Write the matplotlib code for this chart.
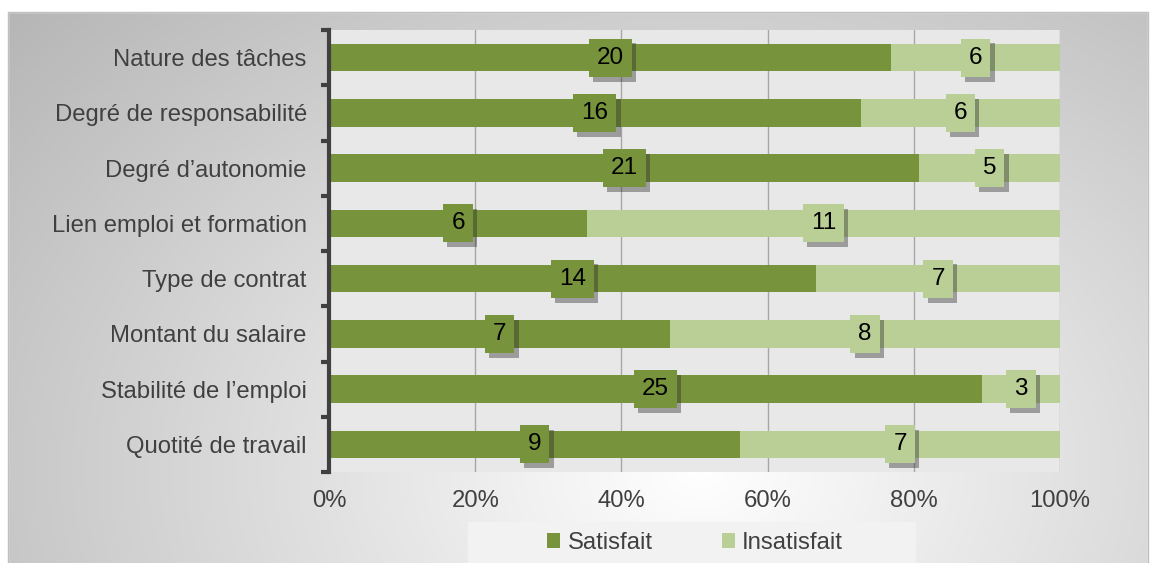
import matplotlib
matplotlib.use("Agg")
import matplotlib.pyplot as plt
import numpy as np
from matplotlib.patches import Rectangle, Patch
import matplotlib.patheffects as pe

categories = ["Nature des tâches", "Degré de responsabilité", "Degré d’autonomie",
              "Lien emploi et formation", "Type de contrat", "Montant du salaire",
              "Stabilité de l’emploi", "Quotité de travail"]
satisfait = [20, 16, 21, 6, 14, 7, 25, 9]
insatisfait = [6, 6, 5, 11, 7, 8, 3, 7]
xticks = [0, 20, 40, 60, 80, 100]
xtick_labels = ["0%", "20%", "40%", "60%", "80%", "100%"]
series_names = ["Satisfait", "Insatisfait"]

c_sat = "#77933C"
c_ins = "#B9CF96"
txt_col = "#404040"

plt.rcParams['font.family'] = ['Liberation Sans', 'DejaVu Sans']
FS = 17.2

W, H = 1153, 563
fig = plt.figure(figsize=(W / 100, H / 100), dpi=100)
fig.patch.set_facecolor("white")

# background gradient panel
bg = fig.add_axes([0, 0, 1, 1], zorder=-10)
yy, xx = np.mgrid[0:H, 0:W]
cx, cy = 700, 470
d = np.sqrt(((xx - cx) / 800.0) ** 2 + ((yy - cy) / 600.0) ** 2)
val = 1.0 - 0.25 * np.clip(d, 0, 1.2)
img = np.dstack([val, val, val])
bg.imshow(img, extent=[0, W, H, 0], aspect="auto", interpolation="bilinear")
bg.set_xlim(0, W)
bg.set_ylim(H, 0)
bg.add_patch(Rectangle((0, 0), W, 12, color="white", zorder=2))
bg.add_patch(Rectangle((0, 0), 8, H, color="white", zorder=2))
bg.add_patch(Rectangle((1148, 0), 10, H, color="white", zorder=2))
bg.add_patch(Rectangle((8, 12), 1140, 560, fill=False, edgecolor="#c0c0c0", lw=1, zorder=3))
# legend background panel
bg.add_patch(Rectangle((468, 522), 447, 45, color="#f2f2f2", zorder=4))
bg.axis("off")

ax = fig.add_axes([329 / W, 1 - 472 / H, (1060 - 329) / W, (472 - 30) / H])
ax.set_facecolor("#e8e8e8")

n = len(categories)
y = np.arange(n)
tot = np.array(satisfait) + np.array(insatisfait)
ps = np.array(satisfait) / tot * 100
pi = np.array(insatisfait) / tot * 100

ax.barh(y, ps, height=0.5, color=c_sat, zorder=2)
ax.barh(y, pi, left=ps, height=0.5, color=c_ins, zorder=2)

def label(xc, yc, s, fc):
    t = ax.annotate(s, (xc, yc), ha="center", va="center", fontsize=17.5, color="black", zorder=4,
                    bbox=dict(boxstyle="square,pad=0.33", fc=fc, ec="none", lw=0))
    t.get_bbox_patch().set_path_effects([
        pe.SimplePatchShadow(offset=(3, -3.5), shadow_rgbFace="#2a2a2a", alpha=0.4),
        pe.Normal()])

for i in range(n):
    label(ps[i] / 2, y[i], str(satisfait[i]), c_sat)
    label(ps[i] + pi[i] / 2, y[i], str(insatisfait[i]), c_ins)

ax.set_xlim(0, 100)
ax.set_ylim(n - 0.5, -0.5)
ax.set_xticks(xticks)
ax.set_xticklabels(xtick_labels)
ax.set_yticks(y)
ax.set_yticklabels(categories)
ax.set_yticks(np.arange(-0.5, n, 1.0), minor=True)
ax.tick_params(axis="y", which="major", length=0, pad=16, labelsize=FS, labelcolor=txt_col)
ax.tick_params(axis="y", which="minor", length=6, width=3, color="#404040", direction="out")
ax.tick_params(axis="x", which="major", length=0, pad=13, labelsize=FS, labelcolor=txt_col)
ax.grid(axis="x", color="#a6a6a6", lw=1, zorder=1)
ax.set_axisbelow(True)
for s in ["top", "right", "bottom"]:
    ax.spines[s].set_visible(False)
ax.spines["left"].set_color("#404040")
ax.spines["left"].set_linewidth(3)
ax.spines["left"].set_zorder(5)

handles = [Patch(facecolor=c_sat, label=series_names[0]),
           Patch(facecolor=c_ins, label=series_names[1])]
leg = fig.legend(handles=handles, loc="center", bbox_to_anchor=(695 / W, 1 - 543 / H),
                 ncol=2, fontsize=FS, frameon=False, handlelength=0.55, handleheight=0.55,
                 handletextpad=0.3, columnspacing=2.9, borderaxespad=0)
for t in leg.get_texts():
    t.set_color(txt_col)

fig.savefig("out.png", dpi=100)
